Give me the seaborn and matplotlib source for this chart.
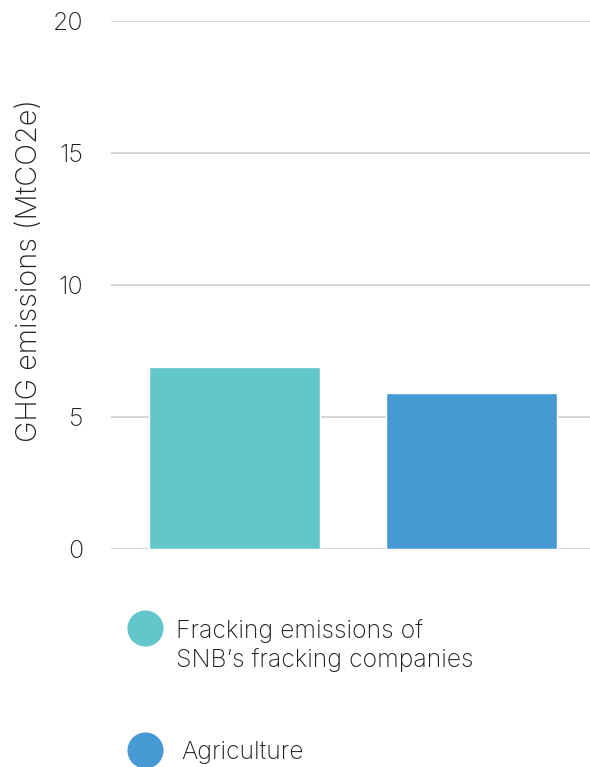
import matplotlib
matplotlib.use("Agg")
import matplotlib.pyplot as plt
import seaborn as sns
import pandas as pd
from matplotlib.lines import Line2D

categories = ["Fracking emissions of\nSNB\u2019s fracking companies", "Agriculture"]
values = [6.9, 5.9]
colors = ["#62C6CB", "#4799D4"]
yticks = [0, 5, 10, 15, 20]
ylabel = "GHG emissions (MtCO2e)"

sns.set_theme(style="white")
plt.rcParams['font.family'] = ['Inter', 'DejaVu Sans']
plt.rcParams['font.weight'] = 'light'
TXT = "#1f1f1f"

df = pd.DataFrame({"category": categories, "value": values})

fig = plt.figure(figsize=(5.9, 7.67), dpi=100)
ax = fig.add_axes([111/590, 1 - 549/767, 1 - 111/590, (549 - 21)/767])

sns.barplot(data=df, x="category", y="value", hue="category", palette=colors,
            width=0.72, ax=ax, legend=False, saturation=1)

ax.set_ylim(0, 20)
ax.set_xlim(-0.52, 1.5)
ax.set_yticks(yticks)
ax.set_yticklabels([str(t) for t in yticks], fontsize=18, color=TXT, fontweight='light')
ax.set_xticks([])
ax.set_xlabel("")
ax.set_ylabel(ylabel, fontsize=20.8, color=TXT, fontweight='light')
ax.yaxis.set_label_coords(-(111 - 30) / 479, (549 - 270) / 528)
ax.yaxis.label.set_va('center')
ax.tick_params(axis='y', length=0, pad=20)
ax.yaxis.grid(True, color="#d3d3d3", linewidth=1.3)
ax.set_axisbelow(True)
for s in ax.spines.values():
    s.set_visible(False)

# legend below
leg_y = [628, 750]
for cat, col, yy in zip(categories, colors, leg_y):
    fig.add_artist(Line2D([145/590], [1 - yy/767], marker='o', markersize=25,
                          color=col, linestyle='none', transform=fig.transFigure))
fig.text(176/590, 1 - 619/767, categories[0], fontsize=17.8, color=TXT,
         va='top', ha='left', linespacing=1.27, fontweight='light')
fig.text(181/590, 1 - 741/767, categories[1], fontsize=17.8, color=TXT,
         va='top', ha='left', fontweight='light')

fig.savefig("out.png", dpi=100)
